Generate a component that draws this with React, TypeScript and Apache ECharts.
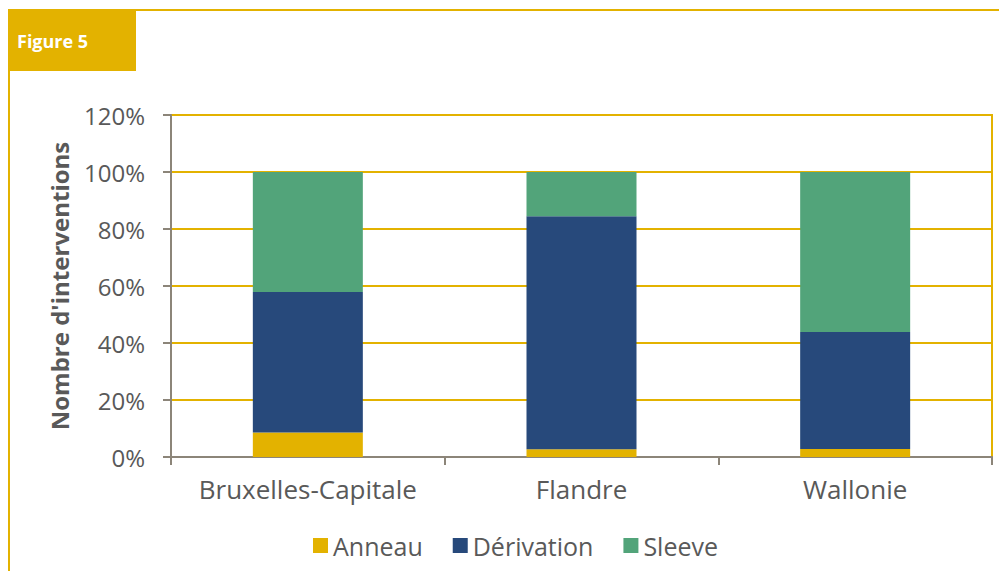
import React, { useEffect, useRef } from "react";
import * as echarts from "echarts";

const categories = ["Bruxelles-Capitale", "Flandre", "Wallonie"];
const anneau = [8.6, 2.7, 2.8];
const derivation = [49.3, 81.8, 41.1];
const sleeve = [42.1, 15.5, 56.1];
const seriesNames = ["Anneau", "Dérivation", "Sleeve"];
const colors = ["#E3B200", "#27497B", "#52A47A"];

const FONT = "'Open Sans', 'Noto Sans', sans-serif";

export default function App() {
  const ref = useRef<HTMLDivElement>(null);
  useEffect(() => {
    const chart = echarts.init(ref.current!, null, { renderer: "svg" });
    const data = [anneau, derivation, sleeve];
    chart.setOption({
      animation: false,
      backgroundColor: "#ffffff",
      textStyle: { fontFamily: FONT },
      graphic: [
        { type: "line", shape: { x1: 8, y1: 10, x2: 1007, y2: 10 }, style: { stroke: "#E3B200", lineWidth: 2 } },
        { type: "line", shape: { x1: 9, y1: 10, x2: 9, y2: 579 }, style: { stroke: "#E3B200", lineWidth: 2 } },
        { type: "rect", shape: { x: 8, y: 10, width: 128, height: 61 }, style: { fill: "#E3B200" } },
        {
          type: "text",
          x: 17,
          y: 41,
          style: { text: "Figure 5", fill: "#ffffff", font: `bold 18px ${FONT}`, verticalAlign: "middle" },
        },
      ],
      grid: {
        left: 171,
        right: 15,
        top: 115,
        bottom: 122,
        show: true,
        borderColor: "#E3B200",
        borderWidth: 2,
      },
      legend: {
        bottom: 16,
        left: 308,
        itemWidth: 15,
        itemHeight: 15,
        itemGap: 30,
        icon: "rect",
        textStyle: { fontSize: 25, color: "#595959", fontFamily: FONT },
        data: seriesNames,
      },
      xAxis: {
        type: "category",
        data: categories,
        axisLine: { lineStyle: { color: "#8C8579", width: 2 } },
        axisTick: { show: true, length: 8, lineStyle: { color: "#8C8579", width: 2 } },
        axisLabel: { interval: 0, fontSize: 26, color: "#595959", margin: 19, fontFamily: FONT },
      },
      yAxis: {
        type: "value",
        min: 0,
        max: 120,
        interval: 20,
        name: "Nombre d'interventions",
        nameLocation: "middle",
        nameGap: 100,
        nameTextStyle: { fontSize: 24, fontWeight: "bold", color: "#595959", fontFamily: FONT },
        axisLine: { show: true, lineStyle: { color: "#8C8579", width: 2 } },
        axisTick: { show: true, length: 8, lineStyle: { color: "#8C8579", width: 2 } },
        axisLabel: { formatter: "{value}%", fontSize: 24, color: "#595959", margin: 26, fontFamily: FONT },
        splitLine: { lineStyle: { color: "#E3B200", width: 2 } },
      },
      series: seriesNames.map((n, i) => ({
        name: n,
        type: "bar",
        stack: "total",
        barWidth: 110,
        data: data[i],
        itemStyle: { color: colors[i] },
      })),
    });
    return () => chart.dispose();
  }, []);
  return <div ref={ref} style={{ width: 1007, height: 579, margin: -8 }} />;
}
